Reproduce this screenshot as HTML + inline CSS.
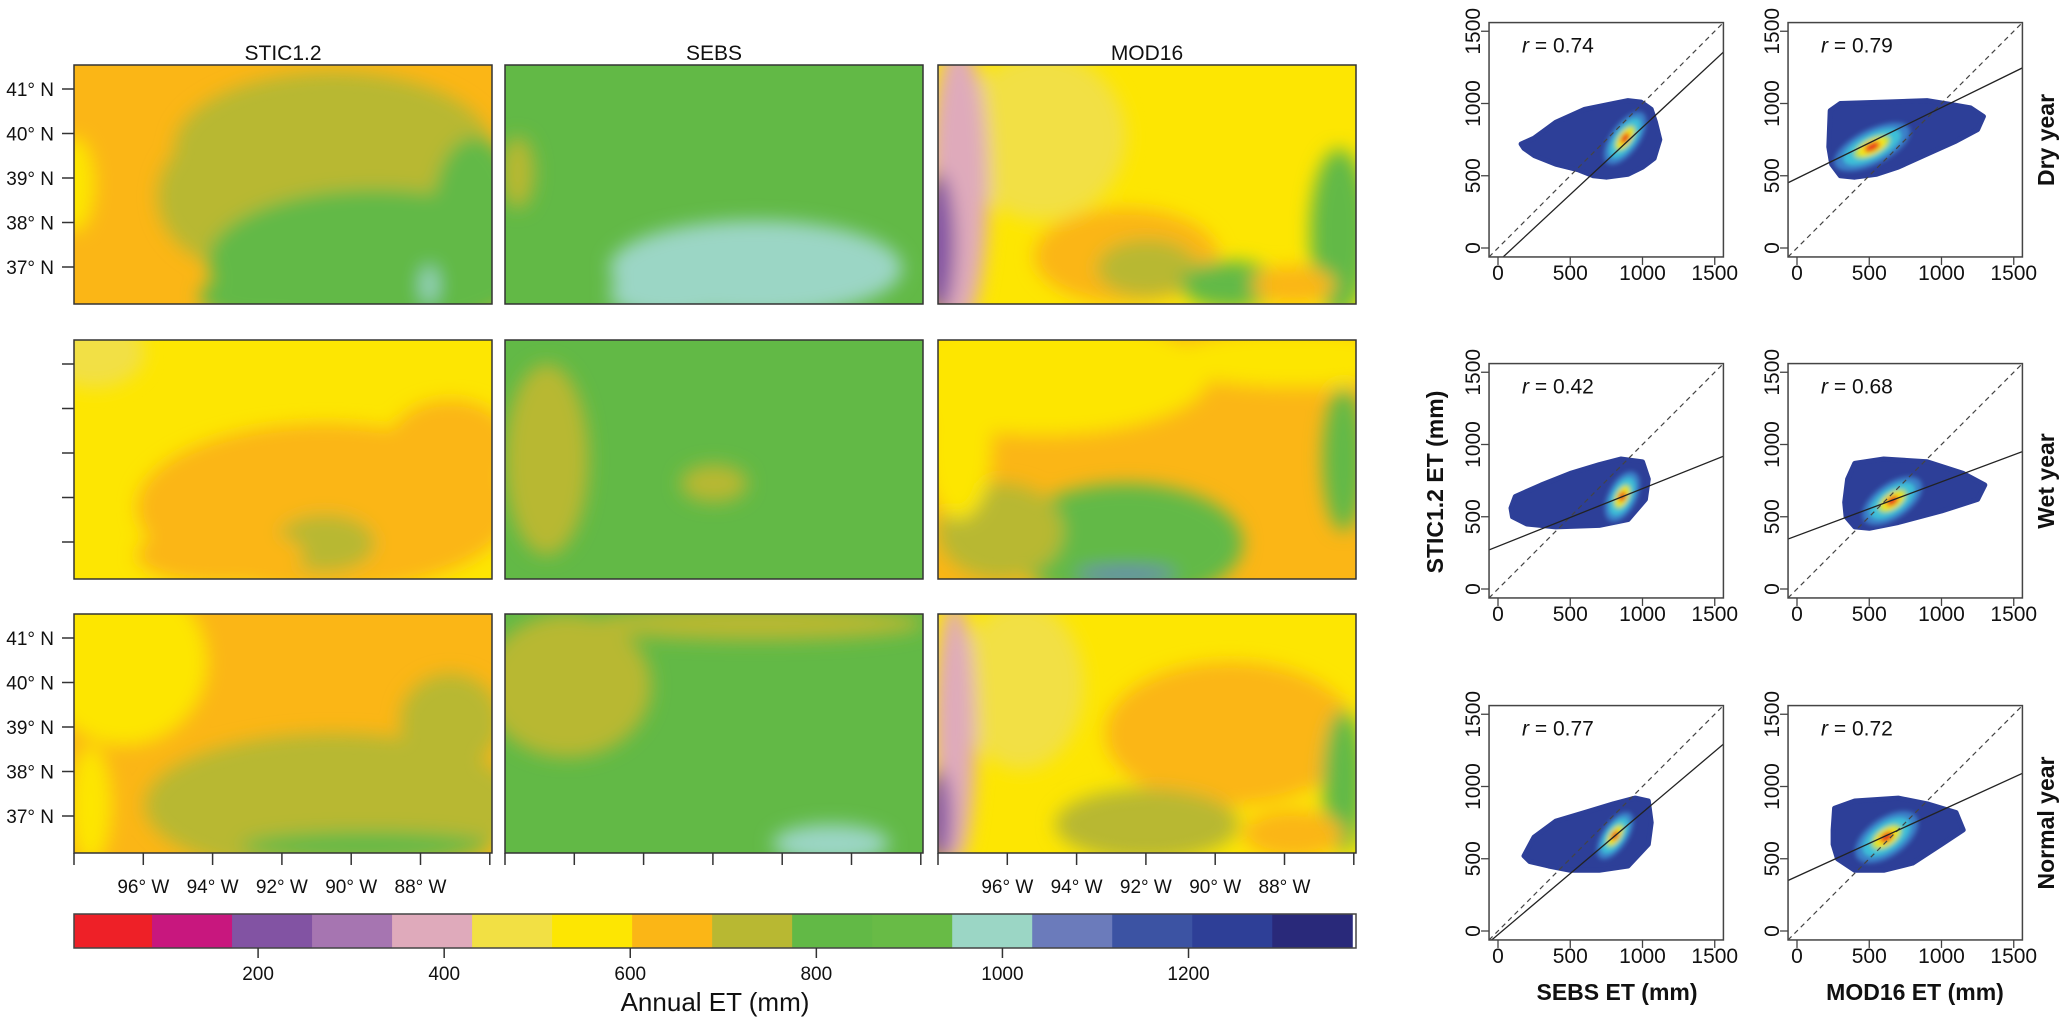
<!DOCTYPE html>
<html><head><meta charset="utf-8">
<style>
html,body{margin:0;padding:0;background:#fff;}
svg{display:block;font-family:"Liberation Sans",Arial,sans-serif;}
</style></head>
<body>
<svg id="fig" width="2067" height="1023" viewBox="0 0 2067 1023" xmlns="http://www.w3.org/2000/svg">
<defs>
<filter id="blurM" x="-20%" y="-20%" width="140%" height="140%"><feGaussianBlur stdDeviation="9"/></filter>
<filter id="blurC" x="-50%" y="-50%" width="200%" height="200%"><feGaussianBlur stdDeviation="2.5"/></filter>
</defs>
</svg>
<script>
// ---------------- data ----------------
const colorBreaks = [0,86,172,258,344,430,516,602,688,774,860,946,1032,1118,1204,1290,1376];
const colorPalette = ['#ee2027','#c8177e','#8253a3','#a675b1','#dfaabb','#f2e044','#fde602','#fbb616','#b8b832','#62b946','#68bb46','#9bd6c5','#6b7bbb','#3c53a3','#2e3f97','#29297a'];
const colorbarTicks = [200,400,600,800,1000,1200];
const modelNames = ['STIC1.2','SEBS','MOD16'];
const yearNames = ['Dry year','Wet year','Normal year'];
const latTicks = ['41° N','40° N','39° N','38° N','37° N'];
const lonTicks = ['96° W','94° W','92° W','90° W','88° W'];
const rValues = [[0.74,0.79],[0.42,0.68],[0.77,0.72]];
const fitIntercepts = [[-95,482],[295,369],[-25,378]];
const fitSlopes = [[0.93,0.49],[0.40,0.373],[0.845,0.457]];
const axisTicks = [0,500,1000,1500];
const cloudHulls = [
 [[[160,720],[250,760],[400,870],[600,960],[800,1000],[900,1020],[990,1010],[1060,960],[1090,870],[1120,750],[1080,620],[1000,560],[900,510],[750,490],[660,500],[560,540],[400,580],[250,640],[180,690]],
  [[220,700],[230,950],[300,1000],[600,1010],[900,1020],[1080,990],[1200,970],[1290,910],[1250,820],[1100,740],[900,650],[700,560],[550,510],[400,490],[300,500],[240,580]]],
 [[[90,560],[120,640],[300,720],[500,800],[700,860],[850,900],[1000,880],[1040,760],[1020,620],[900,480],[700,440],[400,430],[200,450],[100,500]],
  [[330,600],[350,760],[400,870],[600,900],[900,880],[1150,800],[1300,720],[1250,620],[1000,540],[700,460],[500,420],[400,430],[340,500]]],
 [[[180,520],[250,650],[400,760],[600,820],[800,880],[950,920],[1040,900],[1060,750],[1040,600],[900,450],[700,420],[500,420],[350,450],[220,480]],
  [[250,700],[260,850],[400,900],[700,920],[900,880],[1100,820],[1150,700],[1000,600],[800,470],[600,420],[400,420],[280,500],[250,600]]]
];
// density cores: [cx, cy, half-length, half-width, slope]
const cloudCores = [
 [[880,760,170,45,1.4],[520,700,230,55,0.5]],
 [[860,640,150,45,2.0],[660,610,190,55,0.7]],
 [[810,660,150,40,1.5],[620,650,200,60,0.7]]
];
// map patches: [colorIndex, fx, fy, rx, ry]
const mapBase = [[7,9,6],[6,9,7],[7,9,6]];
const mapPatches = [
 [[[8,0.62,0.35,0.38,0.32],[8,0.4,0.55,0.2,0.3],[9,0.72,0.82,0.4,0.3],[9,0.96,0.6,0.1,0.3],[9,0.45,0.97,0.15,0.1],[6,0.0,0.5,0.05,0.2],[11,0.85,0.92,0.02,0.08]],
  [[11,0.6,0.85,0.35,0.2],[11,0.4,0.96,0.15,0.1],[8,0.03,0.45,0.04,0.15]],
  [[5,0.25,0.3,0.2,0.35],[4,0.05,0.5,0.07,0.6],[2,0.0,0.75,0.04,0.3],[7,0.45,0.8,0.22,0.2],[8,0.5,0.85,0.12,0.12],[9,0.96,0.7,0.07,0.35],[9,0.7,0.92,0.12,0.1],[7,0.85,0.92,0.1,0.08]]],
 [[[7,0.6,0.7,0.45,0.35],[7,0.9,0.45,0.15,0.2],[8,0.6,0.85,0.12,0.12],[5,0.05,0.05,0.12,0.15],[7,0.35,0.9,0.2,0.12]],
  [[8,0.1,0.5,0.1,0.4],[8,0.5,0.6,0.08,0.08]],
  [[6,0.25,0.15,0.4,0.25],[6,0.85,0.08,0.3,0.12],[9,0.45,0.85,0.28,0.25],[12,0.45,0.98,0.12,0.03],[9,0.97,0.5,0.05,0.3],[8,0.15,0.8,0.15,0.2],[6,0.05,0.45,0.08,0.3]]],
 [[[6,0.12,0.2,0.2,0.35],[6,0.04,0.8,0.05,0.25],[8,0.62,0.8,0.45,0.3],[8,0.9,0.45,0.12,0.2],[9,0.7,0.97,0.3,0.06]],
  [[8,0.15,0.3,0.2,0.3],[8,0.6,0.04,0.4,0.07],[11,0.78,0.96,0.14,0.08]],
  [[5,0.2,0.3,0.15,0.35],[4,0.04,0.5,0.05,0.55],[2,0.0,0.85,0.03,0.2],[7,0.7,0.5,0.3,0.3],[8,0.5,0.88,0.22,0.15],[9,0.97,0.7,0.05,0.3],[7,0.85,0.92,0.12,0.1]]]
];

// ---------------- helpers ----------------
const NS='http://www.w3.org/2000/svg';
const svg=document.getElementById('fig');
function mk(tag,attrs,parent){const e=document.createElementNS(NS,tag);for(const k in attrs)e.setAttribute(k,attrs[k]);(parent||svg).appendChild(e);return e;}
function txt(s,attrs,parent){const e=mk('text',attrs,parent);e.textContent=s;return e;}

// ---------------- maps ----------------
const mapX=[74,505,938], mapY=[65,340,614], mapW=418, mapH=239;
for(let r=0;r<3;r++)for(let c=0;c<3;c++){
  const x0=mapX[c],y0=mapY[r];
  const g=mk('g',{});
  
  
  const cp=mk('clipPath',{id:'cp'+r+c},svg.querySelector('defs'));
  mk('rect',{x:x0,y:y0,width:mapW,height:mapH},cp);
  const inner=mk('g',{'clip-path':'url(#cp'+r+c+')'},g);
  mk('rect',{x:x0,y:y0,width:mapW,height:mapH,fill:colorPalette[mapBase[r][c]]},inner);
  const bl=mk('g',{filter:'url(#blurM)'},inner);
  mapPatches[r][c].forEach(p=>{
    const el=mk('ellipse',{cx:x0+p[1]*mapW,cy:y0+p[2]*mapH,rx:p[3]*mapW,ry:p[4]*mapH,fill:colorPalette[p[0]]},bl);
    
    
  });
  mk('rect',{x:x0,y:y0,width:mapW,height:mapH,fill:'none',stroke:'#333',"stroke-width":1.5},g);
}
// titles
modelNames.forEach((n,i)=>{
  const t=txt(n,{x:mapX[i]+mapW/2,y:60,'font-size':21,'text-anchor':'middle',fill:'#111'});
  
  
});
// lat ticks
[0,1,2].forEach(r=>{
  latTicks.forEach((l,i)=>{
    const y=mapY[r]+24+i*44.5;
    mk('line',{x1:62,x2:74,y1:y,y2:y,stroke:'#333','stroke-width':1.5});
    if(r!==1){
      const t=txt(l,{x:54,y:y+7,'font-size':19,'text-anchor':'end',fill:'#111'});
      
      
    }
  });
});
// lon ticks
[0,1,2].forEach(c=>{
  const yb=mapY[2]+mapH;
  for(let i=0;i<=6;i++){
    const x=mapX[c]+i*69.3;
    mk('line',{x1:x,x2:x,y1:yb,y2:yb+12,stroke:'#333','stroke-width':1.5});
    if(c!==1 && i>=1 && i<=5){
      const t=txt(lonTicks[i-1],{x:x,y:893,'font-size':19,'text-anchor':'middle',fill:'#111'});
      
      
    }
  }
});
// colorbar
const cbX0=72,cbX1=1356,cbY=914,cbH=34;
const cbScale=v=>cbX0+(v/1380)*(cbX1-cbX0);
const cb=mk('g',{});


colorPalette.forEach((col,i)=>{
  const x1=Math.max(74,cbScale(colorBreaks[i])),x2=Math.min(cbX1,cbScale(colorBreaks[i+1]));
  const r=mk('rect',{x:x1,y:cbY,width:x2-x1+0.5,height:cbH,fill:col},cb);
  
  
});
mk('rect',{x:74,y:cbY,width:cbX1-74,height:cbH,fill:'none',stroke:'#444','stroke-width':1.5},cb);
colorbarTicks.forEach(v=>{
  const x=cbScale(v);
  mk('line',{x1:x,x2:x,y1:cbY+cbH,y2:cbY+cbH+10,stroke:'#333','stroke-width':1.5},cb);
  const t=txt(String(v),{x:x,y:980,'font-size':19,'text-anchor':'middle',fill:'#111'},cb);
  
  
});
const cbt=txt('Annual ET (mm)',{x:715,y:1011,'font-size':26,'text-anchor':'middle',fill:'#111'});



// ---------------- scatter panels ----------------
const panelX0=[1498,1797], rowOff=[0,341,683];
const pxPer=0.1445;
for(let r=0;r<3;r++)for(let c=0;c<2;c++){
  const xs=v=>panelX0[c]+v*pxPer;
  const ys=v=>248+rowOff[r]-v*pxPer;
  const bx0=xs(-62),bx1=xs(1560),by0=ys(1560),by1=ys(-62);
  const g=mk('g',{});
  
  
  const cid='sc'+r+c;
  const cp=mk('clipPath',{id:cid},svg.querySelector('defs'));
  mk('rect',{x:bx0,y:by0,width:bx1-bx0,height:by1-by0},cp);
  const inner=mk('g',{'clip-path':'url(#'+cid+')'},g);
  // cloud
  const pts=cloudHulls[r][c].map(p=>xs(p[0]).toFixed(1)+','+ys(p[1]).toFixed(1)).join(' ');
  const poly=mk('polygon',{points:pts,fill:'#2d3f98',stroke:'#2d3f98','stroke-width':5,'stroke-linejoin':'round'},inner);
  
  
  const core=cloudCores[r][c];
  const ang=-Math.atan(core[4])*180/Math.PI;
  const ccx=xs(core[0]),ccy=ys(core[1]);
  const cg=mk('g',{filter:'url(#blurC)',transform:'rotate('+ang+' '+ccx+' '+ccy+')'},inner);
  [['#3b7fc8',1.25,2.2],['#3cc0d8',0.95,1.6],['#b5dc3c',0.6,1.05],['#f7e51c',0.45,0.8],['#e8261e',0.25,0.5]].forEach(s=>{
    const e=mk('ellipse',{cx:ccx,cy:ccy,rx:core[2]*pxPer*s[1],ry:core[3]*pxPer*s[2],fill:s[0]},cg);
    
    
  });
  // 1:1 line
  const l1=mk('line',{x1:xs(-62),y1:ys(-62),x2:xs(1560),y2:ys(1560),stroke:'#444','stroke-width':1.2,'stroke-dasharray':'5,4'},inner);
  
  
  // fit line
  const a=fitIntercepts[r][c],b=fitSlopes[r][c];
  const fl=mk('line',{x1:xs(-62),y1:ys(a+b*-62),x2:xs(1560),y2:ys(a+b*1560),stroke:'#222','stroke-width':1.3},inner);
  
  
  mk('rect',{x:bx0,y:by0,width:bx1-bx0,height:by1-by0,fill:'none',stroke:'#444','stroke-width':1.5},g);
  // ticks
  axisTicks.forEach(v=>{
    mk('line',{x1:xs(v),x2:xs(v),y1:by1,y2:by1+8,stroke:'#444','stroke-width':1.3},g);
    const tx=txt(String(v),{x:xs(v),y:by1+23,'font-size':21,'text-anchor':'middle',fill:'#111'},g);
    
    
    mk('line',{x1:bx0-8,x2:bx0,y1:ys(v),y2:ys(v),stroke:'#444','stroke-width':1.3},g);
    const ty=txt(String(v),{x:bx0-9,y:ys(v),'font-size':21,'text-anchor':'middle',fill:'#111',transform:'rotate(-90 '+(bx0-9)+' '+ys(v)+')'},g);
    
    
  });
  const rt=mk('text',{x:bx0+33,y:by0+30,'font-size':21,fill:'#111'},g);
  
  
  const it=mk('tspan',{'font-style':'italic'},rt);it.textContent='r';
  const vt=mk('tspan',{},rt);vt.textContent=' = '+rValues[r][c].toFixed(2);
}
// axis titles
const t1=txt('SEBS ET (mm)',{x:1617,y:1000,'font-size':23,'font-weight':'bold','text-anchor':'middle',fill:'#111'});


const t2=txt('MOD16 ET (mm)',{x:1915,y:1000,'font-size':23,'font-weight':'bold','text-anchor':'middle',fill:'#111'});


const t3=txt('STIC1.2 ET (mm)',{x:1443,y:482,'font-size':23,'font-weight':'bold','text-anchor':'middle',fill:'#111',transform:'rotate(-90 1443 482)'});


yearNames.forEach((n,i)=>{
  const y=140+rowOff[i];
  const t=txt(n,{x:2054,y:y,'font-size':23,'font-weight':'bold','text-anchor':'middle',fill:'#111',transform:'rotate(-90 2054 '+y+')'});
  
  
});
</script>
</body></html>
